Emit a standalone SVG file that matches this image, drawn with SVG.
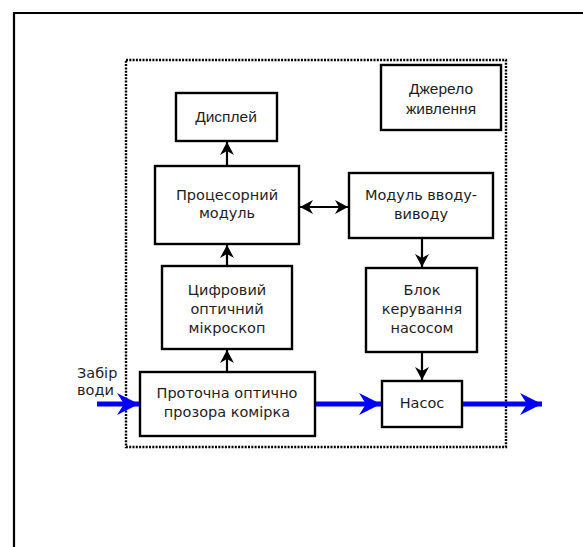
<svg xmlns="http://www.w3.org/2000/svg" width="583" height="547" viewBox="0 0 583 547">
  <defs>
    <style>
      .box { fill: #ffffff; stroke: #000000; stroke-width: 2.4; }
      .frame { fill: none; stroke: #000000; stroke-width: 2.2; }
      .dotted { fill: none; stroke: #000000; stroke-width: 2.4; stroke-dasharray: 2 1.3; }
      .wire { fill: none; stroke: #000000; stroke-width: 2.2; }
      .flow { fill: none; stroke: #0000ff; stroke-width: 5; }
      .t { font-family: "DejaVu Sans", Verdana, sans-serif; font-size: 14.5px; fill: #1e1e1e; text-anchor: middle; }
      .c { font-family: "Liberation Sans", Arial, sans-serif; font-size: 15.5px; fill: #1e1e1e; text-anchor: middle; }
      .l { font-family: "DejaVu Sans", Verdana, sans-serif; font-size: 14.5px; fill: #1e1e1e; }
    </style>
    <marker id="ah" viewBox="-14 -8 15 16" markerWidth="15" markerHeight="16" refX="0" refY="0" orient="auto-start-reverse" markerUnits="userSpaceOnUse">
      <path d="M0,0 L-13,-7 L-9,0 L-13,7 Z" fill="#000000"/>
    </marker>
    <marker id="ahb" viewBox="-23 -12 24 24" markerWidth="24" markerHeight="24" refX="0" refY="0" orient="auto" markerUnits="userSpaceOnUse">
      <path d="M0,0 L-22,-11 L-15,0 L-22,11 Z" fill="#0000ff"/>
    </marker>
  </defs>

  <!-- page frame -->
  <path class="frame" d="M14,547 L14,13 L583,13"/>

  <!-- device enclosure -->
  <rect class="dotted" x="126" y="60" width="380" height="387"/>

  <!-- connectors -->
  <g id="connectors">
    <line class="wire" x1="227" y1="166" x2="227" y2="142" marker-end="url(#ah)"/>
    <line class="wire" x1="227" y1="266" x2="227" y2="245" marker-end="url(#ah)"/>
    <line class="wire" x1="227" y1="372" x2="227" y2="350" marker-end="url(#ah)"/>
    <line class="wire" x1="300" y1="207" x2="348" y2="207" marker-start="url(#ah)" marker-end="url(#ah)"/>
    <line class="wire" x1="422" y1="238" x2="422" y2="267" marker-end="url(#ah)"/>
    <line class="wire" x1="422" y1="352" x2="422" y2="380" marker-end="url(#ah)"/>
    <line class="flow" x1="97" y1="404" x2="139" y2="404" marker-end="url(#ahb)"/>
    <line class="flow" x1="315" y1="404" x2="381" y2="404" marker-end="url(#ahb)"/>
    <line class="flow" x1="462" y1="404" x2="542" y2="404" marker-end="url(#ahb)"/>
  </g>

  <g id="display">
    <rect class="box" x="176" y="93" width="101" height="48"/>
    <text class="c" x="226" y="122">Дисплей</text>
  </g>

  <g id="power">
    <rect class="box" x="381" y="65" width="120" height="65"/>
    <text class="c" x="441" y="94">Джерело</text>
    <text class="c" x="441" y="114">живлення</text>
  </g>

  <g id="cpu">
    <rect class="box" x="155" y="166" width="144" height="78"/>
    <text class="t" x="227" y="200">Процесорний</text>
    <text class="t" x="227" y="218">модуль</text>
  </g>

  <g id="io">
    <rect class="box" x="349" y="173" width="144" height="65"/>
    <text class="t" x="421" y="200">Модуль вводу-</text>
    <text class="t" x="421" y="219">виводу</text>
  </g>

  <g id="microscope">
    <rect class="box" x="162" y="266" width="130" height="83"/>
    <text class="t" x="227" y="295">Цифровий</text>
    <text class="t" x="227" y="314">оптичний</text>
    <text class="t" x="227" y="333">мікроскоп</text>
  </g>

  <g id="pump-control">
    <rect class="box" x="366" y="268" width="111" height="84"/>
    <text class="t" x="422" y="295">Блок</text>
    <text class="t" x="422" y="314">керування</text>
    <text class="t" x="422" y="333">насосом</text>
  </g>

  <g id="flow-cell">
    <rect class="box" x="140" y="372" width="175" height="64"/>
    <text class="t" x="227" y="398">Проточна оптично</text>
    <text class="t" x="227" y="417">прозора комірка</text>
  </g>

  <g id="pump">
    <rect class="box" x="382" y="381" width="80" height="46"/>
    <text class="t" x="422" y="408">Насос</text>
  </g>

  <g id="intake-label">
    <text class="l" x="77" y="378">Забір</text>
    <text class="l" x="77" y="395">води</text>
  </g>
</svg>
